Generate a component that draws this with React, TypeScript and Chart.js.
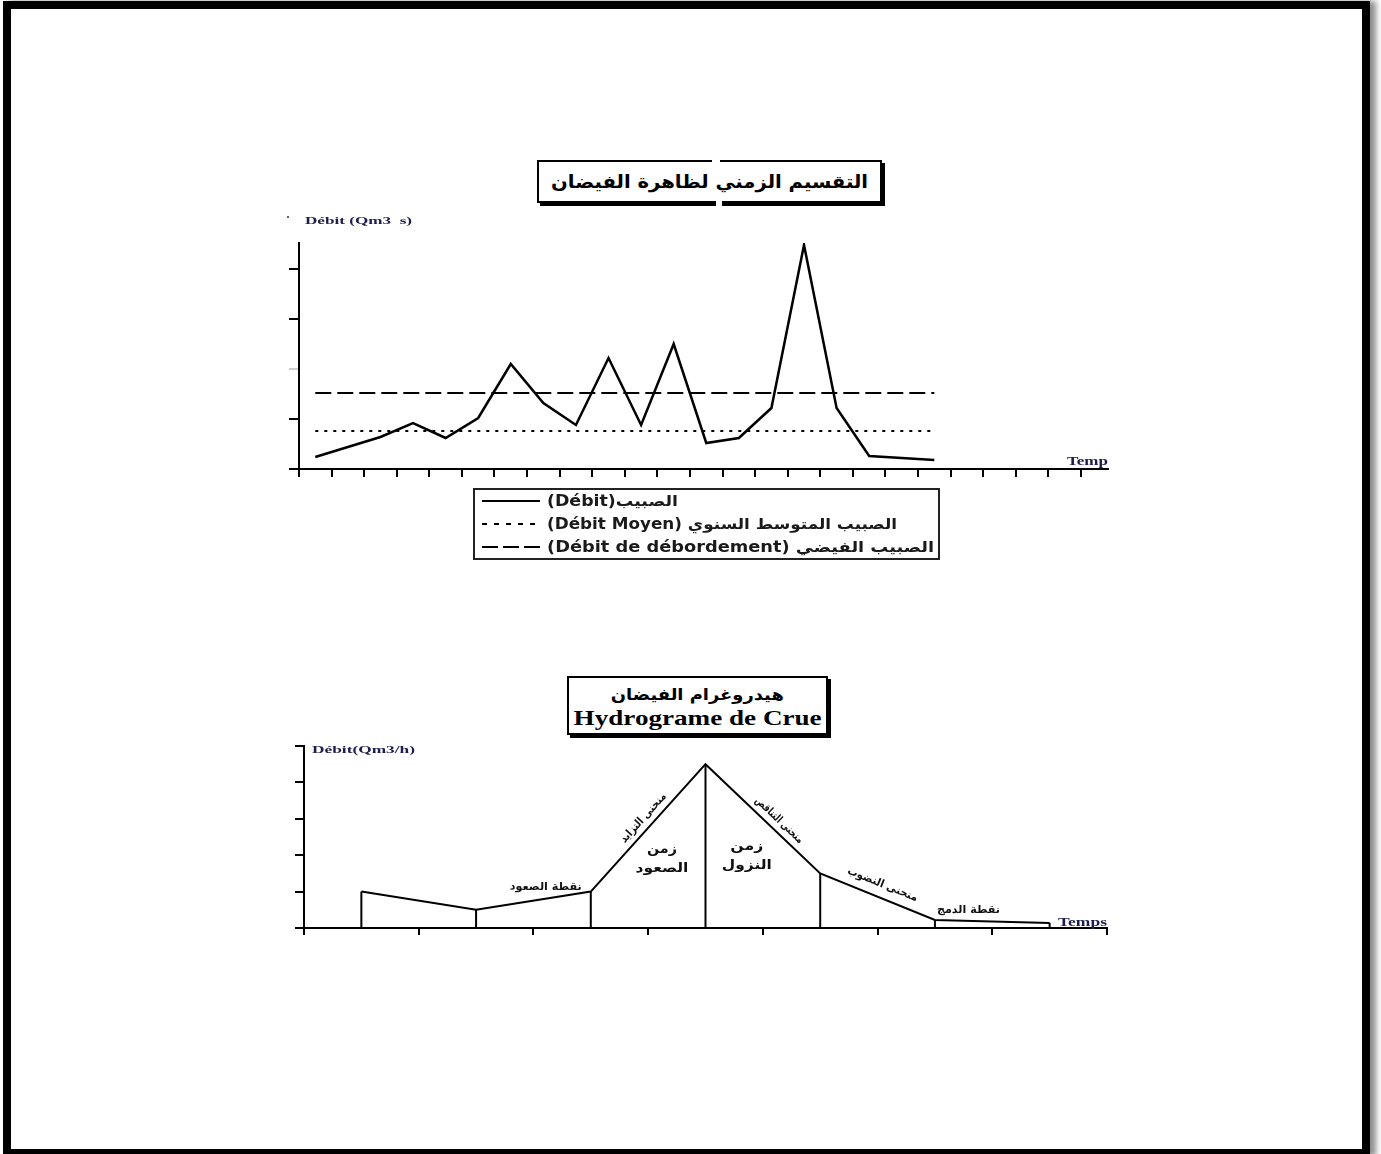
import React, { useEffect, useRef } from "react";
import { Chart, registerables } from "chart.js";
Chart.register(...registerables);

// ---------- Top chart: flow over time ----------
const flowValues = [0.24, 0.44, 0.64, 0.92, 0.62, 1.02, 2.1, 1.32, 0.88, 2.22, 0.88, 2.5, 0.52, 0.62, 1.22, 4.48, 1.22, 0.26, 0.22, 0.18];
const meanFlow = 0.76;
const overflowFlow = 1.52;
const timeIntervals = 24;
const timeAxisMax = 24.83;
const flowAxisMax = 4.52;
const flowTicks = [0, 1, 2, 3, 4];
const seriesLabels = [
  "(Débit)الصبيب",
  "(Débit Moyen) الصبيب المتوسط السنوي",
  "(Débit de débordement) الصبيب الفيضي",
];
const topTitle = "التقسيم الزمني لظاهرة الفيضان";
const topYCaption = "Débit (Qm3  s)";
const topXCaption = "Temp";

// ---------- Bottom chart: flood hydrograph ----------
const hydroTimes = [0.5, 1.5, 2.5, 3.5, 4.5, 5.5, 6.5];
const hydroFlows = [1.0, 0.5, 1.0, 4.5, 1.5, 0.22, 0.14];
const hydroTimeTicks = [0, 1, 2, 3, 4, 5, 6, 7];
const hydroFlowTicks = [0, 1, 2, 3, 4, 5];
const bottomTitleAr = "هيدروغرام الفيضان";
const bottomTitleFr = "Hydrograme de Crue";
const bottomYCaption = "Débit(Qm3/h)";
const bottomXCaption = "Temps";
const limbLabels = ["منحنى التزايد", "منحنى التناقص", "منحنى النضوب"];
const pointLabels = ["نقطة الصعود", "نقطة الدمج"];
const phaseLabels = [["زمن", "الصعود"], ["زمن", "النزول"]];

const LATIN = '"Liberation Serif", serif';
const ARABIC = '"DejaVu Sans", sans-serif';
const captionColor = "#1e1e4e";

function drawFit(ctx: any, text: string, x: number, y: number, font: string, width: number, align: any, baseline: any, color: string, angle = 0) {
  ctx.save();
  ctx.font = font;
  const w = ctx.measureText(text).width;
  const sx = width ? width / w : 1;
  ctx.translate(x, y);
  if (angle) ctx.rotate(angle);
  ctx.scale(sx, 1);
  ctx.fillStyle = color;
  ctx.textAlign = align;
  ctx.textBaseline = baseline;
  ctx.fillText(text, 0, 0);
  ctx.restore();
}

function fitScale(text: string, font: string, width: number) {
  const c = document.createElement("canvas").getContext("2d");
  if (!c) return 1;
  c.font = font;
  return width / c.measureText(text).width;
}

const axisOpts = (min: number, max: number, tickVals: number[], tickLength: number, faint: number[] = []) => ({
  type: "linear",
  min,
  max,
  afterBuildTicks: (s: any) => {
    s.ticks = tickVals.map((v) => ({ value: v }));
  },
  ticks: { display: false, autoSkip: false, includeBounds: false },
  grid: {
    drawOnChartArea: false,
    drawTicks: true,
    tickLength,
    lineWidth: 2,
    color: (c: any) => (c.tick && faint.includes(c.tick.value) ? "#d0d0d0" : "#000"),
  },
  border: { display: true, color: "#000", width: 2 },
});

const topOverlay = {
  id: "topOverlay",
  afterDraw(chart: any) {
    const { ctx, chartArea } = chart;
    drawFit(ctx, "·", chartArea.left - 11, chartArea.top - 25, `bold 12px ${LATIN}`, 0, "center", "middle", "#333");
    drawFit(ctx, topYCaption, chartArea.left + 6, chartArea.top - 22, `bold 11px ${LATIN}`, 107, "left", "middle", captionColor);
    drawFit(ctx, topXCaption, chartArea.right, chartArea.bottom - 4, `bold 12px ${LATIN}`, 41, "right", "alphabetic", captionColor);

    // legend box
    const bx = 204, by = 284, bw = 465, bh = 70;
    ctx.save();
    ctx.strokeStyle = "#222";
    ctx.lineWidth = 2;
    ctx.strokeRect(bx, by, bw, bh);
    ctx.restore();
    const rowsY = [296, 319, 342];
    const textW = [131, 350, 387];
    chart.data.datasets.forEach((ds: any, i: number) => {
      const yy = rowsY[i];
      ctx.save();
      ctx.strokeStyle = "#000";
      ctx.lineWidth = 2;
      ctx.setLineDash(ds.legendDash || []);
      ctx.beginPath();
      ctx.moveTo(212, yy);
      ctx.lineTo(270, yy);
      ctx.stroke();
      ctx.restore();
      drawFit(ctx, ds.label, 277, yy + 1, `bold 15px ${ARABIC}`, textW[i], "left", "middle", "#1a1a1a");
    });
  },
};

const bottomOverlay = {
  id: "bottomOverlay",
  beforeDatasetsDraw(chart: any) {
    const { ctx, chartArea, scales } = chart;
    ctx.save();
    ctx.strokeStyle = "#000";
    ctx.lineWidth = 2;
    hydroTimes.forEach((t, i) => {
      const px = scales.x.getPixelForValue(t);
      const py = scales.y.getPixelForValue(hydroFlows[i]);
      ctx.beginPath();
      ctx.moveTo(px, py);
      ctx.lineTo(px, chartArea.bottom);
      ctx.stroke();
    });
    ctx.restore();
  },
  afterDraw(chart: any) {
    const { ctx, chartArea, scales } = chart;
    const X = (v: number) => scales.x.getPixelForValue(v);
    const Y = (v: number) => scales.y.getPixelForValue(v);
    drawFit(ctx, bottomYCaption, chartArea.left + 8, chartArea.top + 4, `bold 11px ${LATIN}`, 103, "left", "middle", captionColor);
    drawFit(ctx, bottomXCaption, chartArea.right, chartArea.bottom - 2, `bold 12px ${LATIN}`, 49, "right", "alphabetic", captionColor);

    // limb labels along the segments
    const limbs = [
      { from: 2, t: 0.525, off: 10, w: 63 },
      { from: 3, t: 0.58, off: 10, w: 62 },
      { from: 4, t: 0.5, off: 13, w: 75 },
    ];
    limbs.forEach((l, i) => {
      const x0 = X(hydroTimes[l.from]), y0 = Y(hydroFlows[l.from]);
      const x1 = X(hydroTimes[l.from + 1]), y1 = Y(hydroFlows[l.from + 1]);
      const a = Math.atan2(y1 - y0, x1 - x0);
      const cx = x0 + (x1 - x0) * l.t + Math.sin(a) * l.off;
      const cy = y0 + (y1 - y0) * l.t - Math.cos(a) * l.off;
      drawFit(ctx, limbLabels[i], cx, cy, `bold 11px ${ARABIC}`, l.w, "center", "middle", "#111", a);
    });

    // point labels
    drawFit(ctx, pointLabels[0], X(hydroTimes[2]) - 9, Y(hydroFlows[2]) - 2, `bold 11px ${ARABIC}`, 72, "right", "alphabetic", "#111");
    drawFit(ctx, pointLabels[1], X(hydroTimes[5]) + 2, Y(hydroFlows[5]) - 7, `bold 11px ${ARABIC}`, 63, "left", "alphabetic", "#111");

    // phase labels
    const phases = [
      { x: 3.12, y: 2.14, w: [30, 53] },
      { x: 3.86, y: 2.23, w: [33, 50] },
    ];
    phases.forEach((p, i) => {
      phaseLabels[i].forEach((txt, j) => {
        drawFit(ctx, txt, X(p.x), Y(p.y) + j * 19, `bold 13px ${ARABIC}`, p.w[j], "center", "middle", "#111");
      });
    });
  },
};

export default function App() {
  const ref1 = useRef<HTMLCanvasElement>(null);
  const ref2 = useRef<HTMLCanvasElement>(null);

  useEffect(() => {
    const c1 = new Chart(ref1.current as HTMLCanvasElement, {
      type: "line",
      data: {
        datasets: [
          {
            label: seriesLabels[0],
            data: flowValues.map((v, i) => ({ x: i + 0.5, y: v })),
            borderColor: "#000",
            borderWidth: 2.5,
            pointRadius: 0,
            tension: 0,
            legendDash: [],
          } as any,
          {
            label: seriesLabels[1],
            data: [
              { x: 0.5, y: meanFlow },
              { x: flowValues.length - 0.5, y: meanFlow },
            ],
            borderColor: "#000",
            borderWidth: 2,
            borderDash: [3, 6],
            pointRadius: 0,
            legendDash: [5, 7],
          } as any,
          {
            label: seriesLabels[2],
            data: [
              { x: 0.5, y: overflowFlow },
              { x: flowValues.length - 0.5, y: overflowFlow },
            ],
            borderColor: "#000",
            borderWidth: 2,
            borderDash: [16, 6],
            pointRadius: 0,
            legendDash: [16, 5],
          } as any,
        ],
      },
      options: {
        responsive: false,
        animation: false,
        devicePixelRatio: 1,
        layout: { padding: { left: 19, right: 22, top: 38, bottom: 93 } },
        plugins: { legend: { display: false }, tooltip: { enabled: false }, title: { display: false } },
        scales: {
          x: axisOpts(0, timeAxisMax, Array.from({ length: timeIntervals + 1 }, (_, i) => i), 8),
          y: axisOpts(0, flowAxisMax, flowTicks, 10, [2]),
        } as any,
      },
      plugins: [topOverlay],
    });

    const c2 = new Chart(ref2.current as HTMLCanvasElement, {
      type: "line",
      data: {
        datasets: [
          {
            label: bottomTitleFr,
            data: hydroTimes.map((t, i) => ({ x: t, y: hydroFlows[i] })),
            borderColor: "#000",
            borderWidth: 2,
            pointRadius: 0,
            tension: 0,
          },
        ],
      },
      options: {
        responsive: false,
        animation: false,
        devicePixelRatio: 1,
        layout: { padding: { left: 15, right: 23, top: 6, bottom: 20 } },
        plugins: { legend: { display: false }, tooltip: { enabled: false } },
        scales: {
          x: axisOpts(0, 7, hydroTimeTicks, 7),
          y: axisOpts(0, 5, hydroFlowTicks, 9),
        } as any,
      },
      plugins: [bottomOverlay],
    });

    return () => {
      c1.destroy();
      c2.destroy();
    };
  }, []);

  const boxStyle = (l: number, t: number, w: number, h: number): any => ({
    position: "absolute",
    left: l,
    top: t,
    width: w,
    height: h,
    border: "2px solid #000",
    boxShadow: "3px 3px 0 #000",
    boxSizing: "border-box",
    background: "#fff",
    display: "flex",
    flexDirection: "column",
    alignItems: "center",
    justifyContent: "center",
  });

  const f1 = `bold 18px ${ARABIC}`;
  const f2a = `bold 16px ${ARABIC}`;
  const f2b = `bold 22px ${LATIN}`;

  return (
    <div style={{ position: "absolute", left: 0, top: 0, width: 1381, height: 1154, overflow: "hidden", background: "#fff" }}>
      <div
        style={{
          position: "absolute",
          left: 3,
          top: 1,
          width: 1367,
          height: 1156,
          border: "8px solid #000",
          boxSizing: "border-box",
          boxShadow: "6px 0 6px rgba(0,0,0,0.45)",
        }}
      />
      <div style={boxStyle(537, 160, 345, 43)}>
        <span style={{ display: "block", font: f1, lineHeight: "24px", whiteSpace: "nowrap", direction: "rtl", transform: `scaleX(${fitScale(topTitle, f1, 317)})` }}>
          {topTitle}
        </span>
      </div>
      <div style={{ position: "absolute", left: 712, top: 159, width: 8, height: 4, background: "#fff" }} />
      <div style={{ position: "absolute", left: 716, top: 200, width: 6, height: 6, background: "#fff" }} />
      <div style={boxStyle(567, 676, 261, 59)}>
        <span style={{ display: "block", font: f2a, lineHeight: "23px", whiteSpace: "nowrap", direction: "rtl", transform: `scaleX(${fitScale(bottomTitleAr, f2a, 173)})` }}>
          {bottomTitleAr}
        </span>
        <span style={{ display: "block", font: f2b, lineHeight: "23px", whiteSpace: "nowrap", transform: `scaleX(${fitScale(bottomTitleFr, f2b, 248)})` }}>
          {bottomTitleFr}
        </span>
      </div>
      <canvas ref={ref1} width={860} height={365} style={{ position: "absolute", left: 270, top: 205 }} />
      <canvas ref={ref2} width={850} height={215} style={{ position: "absolute", left: 280, top: 740 }} />
    </div>
  );
}
